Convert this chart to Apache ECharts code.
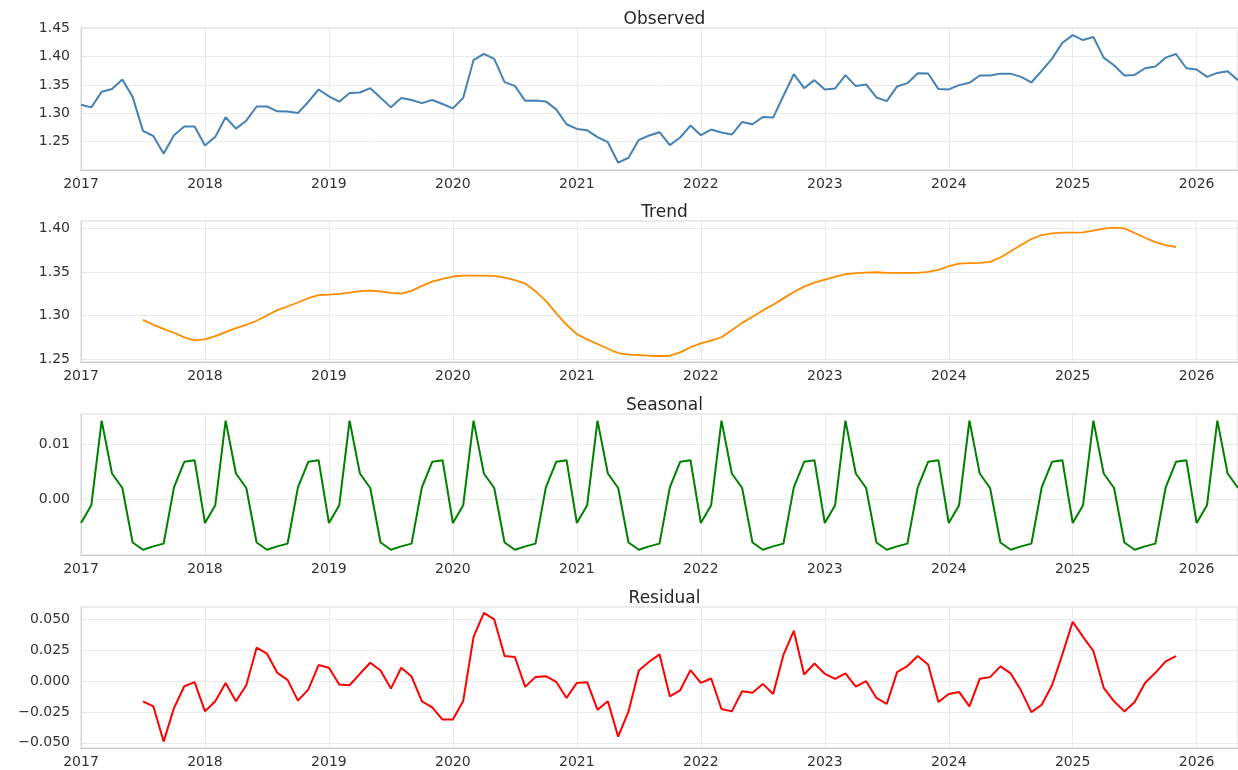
<!DOCTYPE html>
<html>
<head>
<meta charset="utf-8">
<script src="https://cdn.jsdelivr.net/npm/echarts@6/dist/echarts.min.js"></script>
<style>
html,body{margin:0;padding:0;background:#fff;}
#chart{width:1238px;height:770px;}
</style>
</head>
<body>
<div id="chart"></div>
<script>
// ---- data (monthly, 2017-01 .. 2026-05) ----
const yearLabels = ['2017','2018','2019','2020','2021','2022','2023','2024','2025','2026'];
const panelTitles = ['Observed','Trend','Seasonal','Residual'];

const observed = [
  1.315,1.3105,1.338,1.343,1.3597,1.329,1.269,1.260,1.2287,1.2614,1.2766,1.2766,
  1.2433,1.2585,1.293,1.273,1.287,1.312,1.312,1.3035,1.303,1.3006,1.320,1.342,
  1.330,1.3205,1.3357,1.3368,1.3444,1.3275,1.3105,1.327,1.3234,1.318,1.3234,1.3164,
  1.3088,1.3275,1.394,1.405,1.396,1.355,1.3485,1.322,1.3228,1.321,1.307,1.2807,
  1.2725,1.270,1.258,1.249,1.2129,1.2216,1.2532,1.2608,1.2667,1.2439,1.2573,1.2784,
  1.2614,1.2713,1.2661,1.2626,1.2848,1.2807,1.2936,1.2924,1.331,1.369,1.3444,1.3585,
  1.342,1.3439,1.3673,1.348,1.3509,1.328,1.3216,1.3474,1.3532,1.3708,1.3702,1.3427,
  1.3421,1.3497,1.3538,1.3667,1.3667,1.370,1.370,1.3643,1.3544,1.3749,1.3965,1.4246,
  1.438,1.4292,1.4345,1.3982,1.3848,1.3667,1.3678,1.3795,1.3825,1.3982,1.4047,1.3795,
  1.3772,1.3643,1.3713,1.3743,1.3585
];

const trend = [
  null,null,null,null,null,null,1.295,1.2893,1.2847,1.2802,1.2748,1.2714,
  1.2725,1.2763,1.2809,1.2855,1.2893,1.2939,1.300,1.3061,1.3103,1.3149,1.3198,1.3233,
  1.324,1.3248,1.3263,1.3279,1.3286,1.3275,1.326,1.3252,1.3282,1.334,1.3389,1.342,
  1.3447,1.3458,1.3458,1.3458,1.3454,1.3435,1.3405,1.3366,1.3279,1.3168,1.3027,1.2893,
  1.2786,1.2725,1.2672,1.2618,1.2569,1.255,1.2546,1.2538,1.2535,1.2538,1.2577,1.2635,
  1.268,1.2712,1.275,1.2831,1.2915,1.2985,1.3058,1.3123,1.3196,1.3269,1.3331,1.3377,
  1.3412,1.3442,1.3473,1.3485,1.3492,1.3496,1.3488,1.3488,1.3488,1.3488,1.35,1.3523,
  1.3565,1.3596,1.36,1.3604,1.3615,1.3665,1.3738,1.3808,1.3877,1.3923,1.3942,1.395,
  1.395,1.3954,1.3973,1.3996,1.4008,1.4,1.3946,1.3892,1.3842,1.3808,1.3785,null,
  null,null,null,null,null
];

const seasonal = [
  -0.0042,-0.0010,0.0142,0.0047,0.0021,-0.0077,-0.0090,-0.0084,-0.0079,0.0022,0.0068,0.0071,
  -0.0042,-0.0010,0.0142,0.0047,0.0021,-0.0077,-0.0090,-0.0084,-0.0079,0.0022,0.0068,0.0071,
  -0.0042,-0.0010,0.0142,0.0047,0.0021,-0.0077,-0.0090,-0.0084,-0.0079,0.0022,0.0068,0.0071,
  -0.0042,-0.0010,0.0142,0.0047,0.0021,-0.0077,-0.0090,-0.0084,-0.0079,0.0022,0.0068,0.0071,
  -0.0042,-0.0010,0.0142,0.0047,0.0021,-0.0077,-0.0090,-0.0084,-0.0079,0.0022,0.0068,0.0071,
  -0.0042,-0.0010,0.0142,0.0047,0.0021,-0.0077,-0.0090,-0.0084,-0.0079,0.0022,0.0068,0.0071,
  -0.0042,-0.0010,0.0142,0.0047,0.0021,-0.0077,-0.0090,-0.0084,-0.0079,0.0022,0.0068,0.0071,
  -0.0042,-0.0010,0.0142,0.0047,0.0021,-0.0077,-0.0090,-0.0084,-0.0079,0.0022,0.0068,0.0071,
  -0.0042,-0.0010,0.0142,0.0047,0.0021,-0.0077,-0.0090,-0.0084,-0.0079,0.0022,0.0068,0.0071,
  -0.0042,-0.0010,0.0142,0.0047,0.0021
];

const residual = [
  null,null,null,null,null,null,-0.0163,-0.0204,-0.049,-0.0218,-0.0041,-0.0008,
  -0.0245,-0.0163,-0.0014,-0.0163,-0.0033,0.0272,0.0223,0.0068,0.0011,-0.0158,-0.0068,0.0131,
  0.0109,-0.0027,-0.0033,0.006,0.015,0.0087,-0.006,0.0109,0.0038,-0.0163,-0.0213,-0.0311,
  -0.0311,-0.016,0.036,0.0555,0.0502,0.0204,0.0196,-0.0046,0.0035,0.0041,-0.0005,-0.0136,
  -0.0014,-0.0008,-0.0232,-0.0163,-0.045,-0.0245,0.0087,0.0158,0.0218,-0.0123,-0.0074,0.009,
  -0.0014,0.0022,-0.0226,-0.0245,-0.0082,-0.0093,-0.0022,-0.0104,0.0213,0.0409,0.0054,0.0144,
  0.006,0.0019,0.0063,-0.0044,0.0,-0.0136,-0.0185,0.0074,0.0123,0.0204,0.0136,-0.0169,
  -0.0104,-0.0087,-0.0204,0.0019,0.0033,0.012,0.0063,-0.0076,-0.0251,-0.0191,-0.0033,0.0218,
  0.0482,0.036,0.0245,-0.0054,-0.0163,-0.0245,-0.0169,-0.0014,0.0068,0.0161,0.0204,null,
  null,null,null,null,null
];

// ---- layout / styling ----
const FONT = 'DejaVu Sans';
const LEFT = 81;
const panels = [
  {top: 28,  height: 142, titleTop: 6,   data: observed, color: '#4682B4', width: 2,
   min: 1.2, max: 1.4505, step: 0.05, digits: 2},
  {top: 221, height: 141, titleTop: 199, data: trend,    color: '#FF8C00', width: 1.8,
   min: 1.2466, max: 1.4084, step: 0.05, digits: 2},
  {top: 414, height: 141, titleTop: 392, data: seasonal, color: '#008000', width: 2,
   min: -0.00995, max: 0.0154, step: 0.01, digits: 2},
  {top: 607, height: 141, titleTop: 585, data: residual, color: '#FF0000', width: 2,
   min: -0.0542, max: 0.0602, step: 0.025, digits: 3}
];

function fmt(v, d) {
  if (Math.abs(v) < 1e-9) return (0).toFixed(d);
  return (v < 0 ? '\u2212' : '') + Math.abs(v).toFixed(d);
}

const option = {
  animation: false,
  backgroundColor: '#ffffff',
  textStyle: {fontFamily: FONT},
  title: panels.map((p, i) => ({
    text: panelTitles[i],
    left: LEFT + 1157 / 2,
    textAlign: 'center',
    top: p.titleTop,
    textStyle: {fontFamily: FONT, fontSize: 17, fontWeight: 'normal', color: '#262626'}
  })),
  grid: panels.map(p => ({
    left: LEFT, width: 1157, top: p.top, height: p.height,
    show: true, borderColor: '#d6d6d6', borderWidth: 1, backgroundColor: '#ffffff',
    containLabel: false
  })),
  xAxis: panels.map((p, i) => ({
    type: 'value', gridIndex: i, min: 0, max: observed.length - 1,
    minInterval: 12, maxInterval: 12,
    axisLine: {show: true, onZero: false, lineStyle: {color: '#c8c8c8', width: 1.2}},
    axisTick: {show: false},
    splitLine: {show: true, lineStyle: {color: '#ebebeb', width: 1}},
    axisLabel: {
      show: true, margin: 7, fontSize: 14, color: '#333333', fontFamily: FONT,
      showMaxLabel: false,
      formatter: v => {
        const k = Math.round(v / 12);
        return (Math.abs(v - k * 12) < 1e-6 && yearLabels[k]) ? yearLabels[k] : '';
      }
    }
  })),
  yAxis: panels.map((p, i) => ({
    type: 'value', gridIndex: i, min: p.min, max: p.max,
    minInterval: p.step, maxInterval: p.step, splitNumber: 5,
    axisLine: {show: true, onZero: false, lineStyle: {color: '#d6d6d6', width: 1}},
    axisTick: {show: false},
    splitLine: {show: true, lineStyle: {color: '#ebebeb', width: 1}},
    axisLabel: {
      show: true, margin: 11, fontSize: 14, color: '#333333', fontFamily: FONT,
      showMinLabel: false, showMaxLabel: i === 0,
      formatter: v => fmt(v, p.digits)
    }
  })),
  series: panels.map((p, i) => ({
    type: 'line', xAxisIndex: i, yAxisIndex: i,
    data: p.data.map((v, k) => [k, v]),
    showSymbol: false, symbol: 'none', smooth: false, connectNulls: false,
    lineStyle: {color: p.color, width: p.width},
    itemStyle: {color: p.color}
  }))
};

const chart = echarts.init(document.getElementById('chart'), null, {renderer: 'canvas'});
chart.setOption(option);
</script>
</body>
</html>
